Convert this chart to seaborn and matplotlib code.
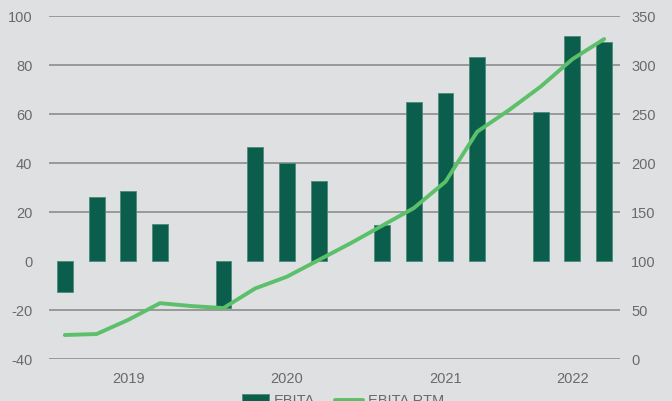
import numpy as np
import pandas as pd
import seaborn as sns
import matplotlib.pyplot as plt

# quarterly periods, with an empty slot between years
periods = ['2019Q1', '2019Q2', '2019Q3', '2019Q4', '2019-',
           '2020Q1', '2020Q2', '2020Q3', '2020Q4', '2020-',
           '2021Q1', '2021Q2', '2021Q3', '2021Q4', '2021-',
           '2022Q1', '2022Q2', '2022Q3']
ebita = [-12.5, 26, 28.6, 15, np.nan,
         -19, 46.4, 40, 32.8, np.nan,
         14.5, 65, 68.5, 83.3, np.nan,
         61, 91.8, 89.5]
ebita_rtm = [24.5, 25.5, 40, 57, 54,
             52, 72, 84, 101, 118,
             136, 154, 181, 232, 254,
             278, 306, 326.5]
left_ticks = [-40, -20, 0, 20, 40, 60, 80, 100]
right_ticks = [0, 50, 100, 150, 200, 250, 300, 350]

df = pd.DataFrame({'period': periods, 'ebita': ebita, 'rtm': ebita_rtm})
df['pos'] = range(len(df))
df['year'] = df['period'].str[:4]

bg = '#dfe0e2'
bar_col = '#0a5e4b'
line_col = '#5cbf6a'
txt = '#6a6a6a'

sns.set_theme(style='white')
plt.rcParams['font.family'] = ['Liberation Sans', 'DejaVu Sans']
plt.rcParams['axes.unicode_minus'] = False

fig = plt.figure(figsize=(6.72, 4.01), dpi=100, facecolor=bg)
ax = fig.add_axes([0.0729, 0.1047, 0.8497, 0.8553])
ax.set_facecolor(bg)

for t in left_ticks:
    if t != 0:
        ax.axhline(t, color='#8c8c8c', lw=1.2, zorder=0)

sns.barplot(data=df, x='pos', y='ebita', color=bar_col, width=0.5,
            edgecolor='#4d8a7b', linewidth=0.6, saturation=1,
            native_scale=True, ax=ax, label='EBITA', zorder=2)
ax.set_xlim(-0.5, len(df) - 0.5)
ax.set_ylim(-40, 100)
ax.set_yticks(left_ticks)

ax2 = ax.twinx()
sns.lineplot(data=df, x='pos', y='rtm', color=line_col, lw=2.8, ax=ax2,
             label='EBITA RTM')
ax2.set_ylim(0, 350)
ax2.set_yticks(right_ticks)
ax2.set_xlim(-0.5, len(df) - 0.5)

years = df.groupby('year')['pos'].mean()
ax.set_xticks(years.values)
ax.set_xticklabels(years.index)

for a in (ax, ax2):
    for s in a.spines.values():
        s.set_visible(False)
    a.set_xlabel('')
    a.set_ylabel('')
    a.tick_params(length=0, labelsize=10.5, colors=txt)
ax.tick_params(axis='y', pad=12)
ax.tick_params(axis='x', pad=9)
ax2.tick_params(axis='y', pad=8)

if ax.get_legend():
    ax.get_legend().remove()
ax2.get_legend().remove()
h1, l1 = ax.get_legend_handles_labels()
h2, l2 = ax2.get_legend_handles_labels()
fig.legend(h1 + h2, l1 + l2, loc='upper center', bbox_to_anchor=(0.51, 0.05),
           ncol=2, frameon=False, fontsize=10.5, labelcolor=txt,
           handlelength=1.9, handleheight=0.9, columnspacing=1.4, handletextpad=0.3)

fig.savefig('out.png', dpi=100, facecolor=bg)
